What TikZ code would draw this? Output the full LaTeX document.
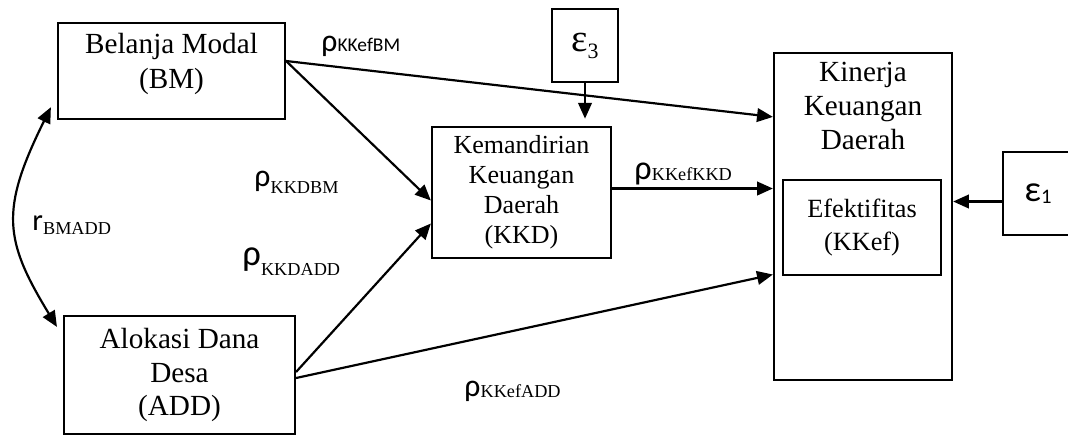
\documentclass[tikz,border=0pt]{standalone}
\usepackage{fontspec}
\setmainfont{Liberation Serif}
\newfontfamily\calib{Carlito}
\usepackage{tikz}
\usetikzlibrary{arrows.meta,positioning}

\newcommand{\rhosym}[1]{{\calib\fontsize{#1}{#1}\selectfont ρ}}
\newcommand{\subtxt}[2]{\raisebox{#1}{\fontsize{7.5}{7.5}\selectfont #2}}

\begin{document}
\begin{tikzpicture}[x=0.411pt, y=-0.411pt,
    box/.style={draw, line width=0.9pt, inner sep=0pt, align=center},
    arr/.style={-{Triangle[length=6.5pt,width=5.6pt]}, line width=0.9pt},
    dbl/.style={{Triangle[length=6.5pt,width=5.6pt]}-{Triangle[length=6.5pt,width=5.6pt]}, line width=0.9pt},
    lbl/.style={anchor=base west, inner sep=0pt}]

    \useasboundingbox (0,0) rectangle (1068,434);

    % Exogenous variables
    \node[box, minimum width=93.3pt, minimum height=39.5pt] (bm) at (171.5,71) {};
    \node[align=center, anchor=north, inner sep=0pt, font=\fontsize{12}{14.4}\selectfont] (bmtxt) at (171.5,33) {Belanja Modal\\(BM)};
    \node[box, minimum width=94.9pt, minimum height=48.5pt, font=\fontsize{12}{13.6}\selectfont] (add) at (179.5,375) {Alokasi Dana\\Desa\\(ADD)};

    % Intervening variable
    \node[box, minimum width=73.6pt, minimum height=53.8pt, font=\fontsize{10.7}{12.3}\selectfont] (kkd) at (521.5,192.5) {Kemandirian\\Keuangan\\Daerah\\(KKD)};

    % Endogenous variable
    \node[box, minimum width=73.2pt, minimum height=134.4pt] (kin) at (863,216.5) {};
    \node[align=center, anchor=north, inner sep=0pt, font=\fontsize{12}{14}\selectfont] (kintxt) at (863,62) {Kinerja\\Keuangan\\Daerah};
    \node[box, line width=0.6pt, minimum width=64.9pt, minimum height=39pt, font=\fontsize{10.8}{13.2}\selectfont] (kkef) at (862,227.5) {Efektifitas\\(KKef)};

    % Residuals
    \node[box, minimum width=27.1pt, minimum height=30pt] (e3) at (585,45.5) {\fontsize{16}{16}\selectfont ε\raisebox{-2.9pt}{\fontsize{9}{9}\selectfont 3}};
    \node[box, minimum width=28.8pt, minimum height=34.1pt] (e1) at (1038,193.5) {\calib\fontsize{15}{15}\selectfont ε\raisebox{-1pt}{\fontsize{8.5}{8.5}\selectfont 1}};

    % Paths
    \draw[arr] ([shift={(0,-10)}]bm.east) -- ([shift={(0,65)}]kin.north west);
    \draw[arr] ([shift={(0,-10)}]bm.east) -- ([shift={(0,8)}]kkd.west);
    \draw[arr] ([shift={(0,-3)}]add.east) -- ([shift={(0,31)}]kkd.west);
    \draw[arr] ([shift={(0,3)}]add.east) -- ([shift={(0,58)}]kin.west);
    \draw[arr] ([shift={(0,-4)}]kkd.east) -- ([shift={(0,-28)}]kin.west);
    \draw[arr, shorten >=3pt] (e3.south) -- (e3.south |- kkd.north);
    \coordinate (e1in) at ([shift={(0,8)}]e1.west);
    \draw[arr] (e1in) -- (e1in -| kin.east);

    % Correlation
    \draw[dbl] ([shift={(-6,-13)}]bm.south west) .. controls (0,210) and (4,240) .. ([shift={(-6,12)}]add.north west);

    % Coefficients
    \node[lbl] (pKKefBM) at (321,51) {\rhosym{13}{\calib\fontsize{8}{8}\selectfont KKefBM}};
    \node[lbl] (pKKDBM) at (254,186) {\rhosym{13}\subtxt{-2.9pt}{KKDBM}};
    \node[lbl] (pKKDADD) at (242,265) {\rhosym{15}\subtxt{-4.5pt}{KKDADD}};
    \node[lbl] (pKKefKKD) at (634,179) {\rhosym{14}\subtxt{-0.5pt}{KKefKKD}};
    \node[lbl] (pKKefADD) at (464,396) {\rhosym{13}\subtxt{-0.8pt}{KKefADD}};
    \node[lbl] (rBMADD) at (32,230) {{\calib\fontsize{12.5}{12.5}\selectfont r}\subtxt{-2pt}{BMADD}};
\end{tikzpicture}
\end{document}
